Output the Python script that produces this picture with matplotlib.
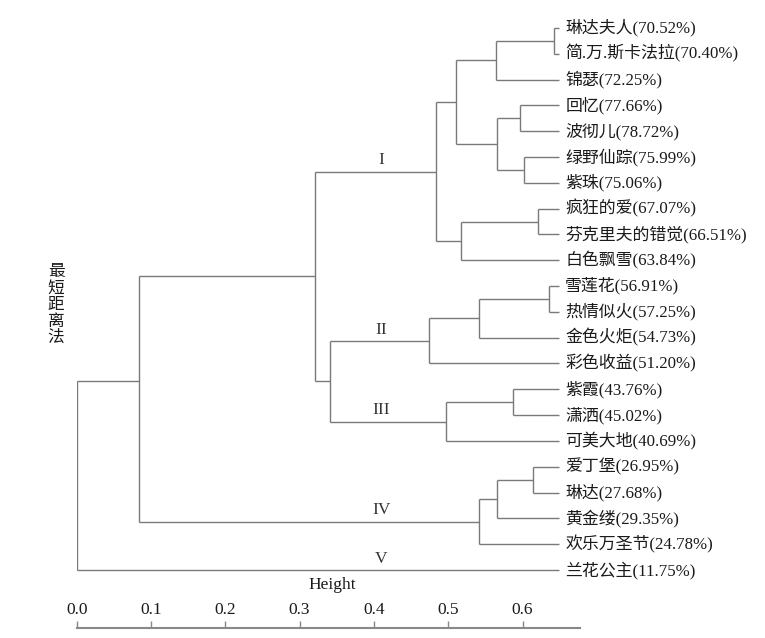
import matplotlib
matplotlib.use("Agg")
import matplotlib.pyplot as plt

plt.rcParams['font.family'] = ['Liberation Serif', 'Noto Sans CJK SC']

# leaves, top to bottom
leaf_labels = [
    "琳达夫人(70.52%)", "简.万.斯卡法拉(70.40%)", "锦瑟(72.25%)",
    "回忆(77.66%)", "波彻儿(78.72%)", "绿野仙踪(75.99%)", "紫珠(75.06%)",
    "疯狂的爱(67.07%)", "芬克里夫的错觉(66.51%)", "白色飘雪(63.84%)",
    "雪莲花(56.91%)", "热情似火(57.25%)", "金色火炬(54.73%)", "彩色收益(51.20%)",
    "紫霞(43.76%)", "潇洒(45.02%)", "可美大地(40.69%)",
    "爱丁堡(26.95%)", "琳达(27.68%)", "黄金缕(29.35%)", "欢乐万圣节(24.78%)",
    "兰花公主(11.75%)",
]
leaf_height = 0.6495

# merges: (left node, right node, height); new nodes numbered from len(leaves)
merge_left = [0, 22, 3, 5, 24, 23, 7, 28, 27, 10, 31, 32, 14, 34, 33, 30, 17, 38, 39, 37, 41]
merge_right = [1, 2, 4, 6, 25, 26, 8, 9, 29, 11, 12, 13, 15, 16, 35, 36, 18, 19, 20, 40, 21]
merge_height = [0.643, 0.564, 0.597, 0.602, 0.566, 0.510, 0.621, 0.517, 0.484,
                0.635, 0.5415, 0.474, 0.5876, 0.4966, 0.341, 0.321,
                0.6137, 0.566, 0.5415, 0.0843, 0.0]

# cluster names and the node they label
cluster_names = ["I", "II", "III", "IV", "V"]
cluster_nodes = [30, 33, 35, 40, 21]

tick_vals = [0.0, 0.1, 0.2, 0.3, 0.4, 0.5, 0.6]

n = len(leaf_labels)
pos_y = {i: float(i) for i in range(n)}
pos_x = {i: leaf_height for i in range(n)}

fig = plt.figure(figsize=(7.65, 6.38), dpi=100)
ax = fig.add_axes([0.10026, 0.01567, 0.6799, 0.9809])
ax.set_xlim(0, 0.7)
ax.set_ylim(23.25, -1)

lc = '#7a7a7a'
last_inner = n + len(merge_left) - 2
for k, (a, b, h) in enumerate(zip(merge_left, merge_right, merge_height)):
    node = n + k
    ya, yb = pos_y[a], pos_y[b]
    ax.plot([h, h], [ya, yb], color=lc, lw=1.0, solid_capstyle='butt')
    ax.plot([h, pos_x[a]], [ya, ya], color=lc, lw=1.0, solid_capstyle='butt')
    ax.plot([h, pos_x[b]], [yb, yb], color=lc, lw=1.0, solid_capstyle='butt')
    pos_x[node] = h
    pos_y[node] = (ya + yb) / 2
    if node == last_inner:
        # root line meets this bracket a little above its midpoint
        pos_y[node] -= 0.7

for i, lab in enumerate(leaf_labels):
    ax.text(leaf_height + 0.008, i, lab, ha='left', va='center',
            fontsize=12.2, color='#1a1a1a', clip_on=False)

for name, node in zip(cluster_names, cluster_nodes):
    ax.text(0.41, pos_y[node] - 0.12, name, ha='center', va='bottom',
            fontsize=12.5, color='#333333')

ax.text(0.3436, 21.58, "Height", ha='center', va='center', fontsize=12.5, color='#1a1a1a')

# axis: scale drawn at the bottom with ticks and labels above the line
for s in ['left', 'right', 'bottom']:
    ax.spines[s].set_visible(False)
ax.spines['top'].set_position(('axes', 0))
ax.spines['top'].set_bounds(0, 0.677)
ax.spines['top'].set_color('#888888')
ax.spines['top'].set_linewidth(1.5)
ax.xaxis.tick_top()
ax.set_xticks(tick_vals)
ax.set_xticklabels([f"{v:.1f}" for v in tick_vals])
ax.tick_params(axis='x', direction='out', length=5, width=1.0, colors='#888888',
               labelcolor='#1a1a1a', labelsize=12.5, pad=2)
ax.set_yticks([])
ax.patch.set_alpha(0)

fig.text(56 / 765, 1 - 305 / 638, "最\n短\n距\n离\n法", ha='center', va='center',
         fontsize=12, linespacing=1.05, color='#1a1a1a')

fig.savefig("out.png", dpi=100, facecolor='white')
